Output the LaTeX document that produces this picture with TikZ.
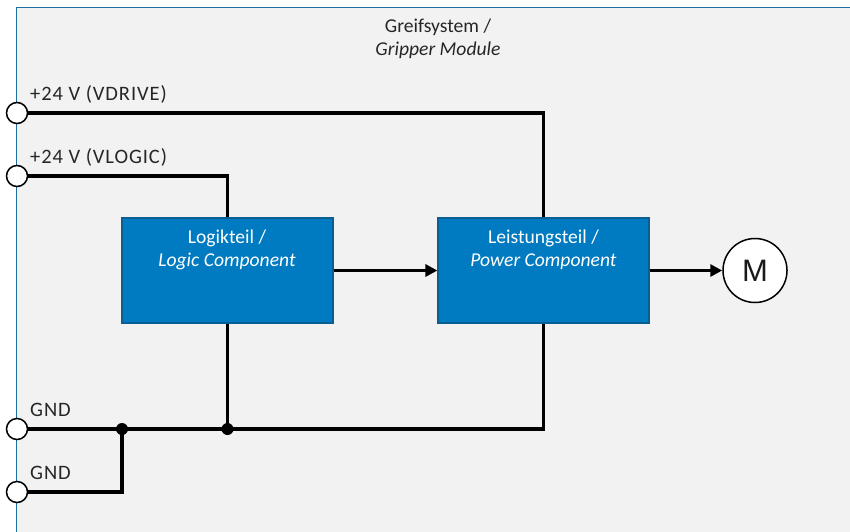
\documentclass[tikz,border=0pt]{standalone}
\usepackage{fontspec}
\setmainfont{Carlito}
\newfontfamily\motorfont{Liberation Sans}
\newfontfamily\labelfont[LetterSpace=4.5]{Carlito}
\usetikzlibrary{arrows.meta}
\definecolor{panelfill}{HTML}{F2F2F2}
\definecolor{paneledge}{HTML}{1F6E9F}
\definecolor{boxfill}{HTML}{007AC0}
\definecolor{boxedge}{HTML}{0B5E91}
\tikzset{
  x=1pt,y=-1pt,
  txt/.style={font=\fontsize{19.6}{23}\selectfont,text=black!85,inner sep=0pt},
  lbl/.style={font=\labelfont\fontsize{20.5}{23}\selectfont,text=black!85,inner sep=0pt,anchor=base west},
  block/.style={draw=boxedge,fill=boxfill,line width=1.2pt,minimum width=211pt,minimum height=105pt,inner sep=0pt},
  blocktext/.style={txt,text=white,align=center},
  port/.style={circle,draw=black,fill=white,line width=1.5pt,minimum size=21pt,inner sep=0pt},
  motor/.style={circle,draw=black,fill=white,line width=1.5pt,minimum size=64pt,inner sep=0pt,font=\motorfont\fontsize{31}{32}\selectfont,text=black!90},
  dot/.style={circle,fill=black,minimum size=12pt,inner sep=0pt},
  wire/.style={draw=black,line width=3.6pt,line join=miter},
  heavy/.style={draw=black,line width=4.8pt,line join=miter},
  flow/.style={wire,-{Triangle[length=12pt,width=12pt]}}
}
\begin{document}
\begin{tikzpicture}
\useasboundingbox (0,0) rectangle (850,531);
\clip (0,0) rectangle (850,531);
\fill[panelfill] (16.5,7.5) rectangle (860,540);
\draw[paneledge,line width=1.5pt] (16.5,540) -- (16.5,7.5) -- (860,7.5);
\node[txt,align=center] (title) at (438,39) {Greifsystem /\\\textit{Gripper Module}};

\node[block] (logic) at (227.5,270.5) {};
\node[block] (power) at (543.5,270.5) {};
\node[port] (p1) at (17,113) {};
\node[port] (p2) at (17,176) {};
\node[port] (p3) at (17,429) {};
\node[port] (p4) at (17,492) {};
\node[motor] (m) at (755,270.5) {M};
\coordinate (j1) at (122,429);
\coordinate (j2) at (227.5,429);

\draw[wire] (p1.east) -- (543.5,113) -- (power.north);
\draw[wire] (p2.east) -- (227.5,176) -- (logic.north);
\draw[wire] (logic.south) -- (j2);
\draw[wire] (power.south) -- (543.5,429) -- (j2) -- (j1);
\draw[heavy] (p3.east) -- (j1);
\draw[heavy] (p4.east) -- (122,492) -- (j1);
\draw[flow] (logic.east) -- (power.west);
\draw[flow] (power.east) -- (m.west);
\node[dot] (d1) at (j1) {};
\node[dot] (d2) at (j2) {};

\node[blocktext] (lt) at (227,250) {Logikteil /\\\textit{Logic Component}};
\node[blocktext] (pt) at (543.5,250) {Leistungsteil /\\\textit{Power Component}};
\node[lbl] (l1) at (30,100) {+24 V (VDRIVE)};
\node[lbl] (l2) at (30,163) {+24 V (VLOGIC)};
\node[lbl] (l3) at (30,416.5) {GND};
\node[lbl] (l4) at (30,479.5) {GND};
\end{tikzpicture}
\end{document}
